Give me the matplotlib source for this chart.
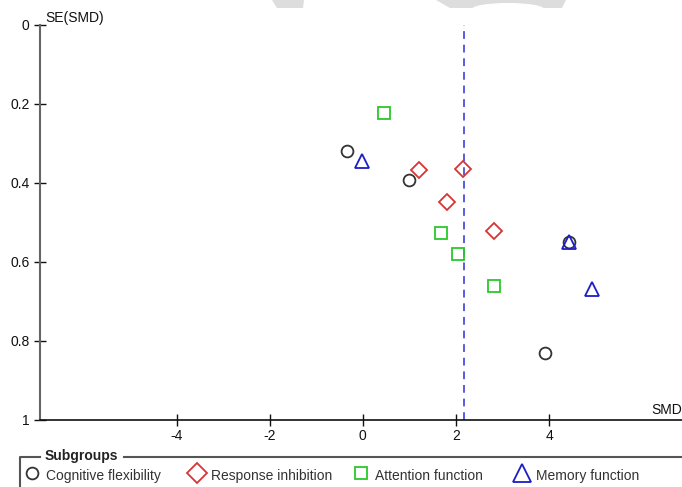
import numpy as np
from matplotlib import pyplot as plt
from matplotlib.lines import Line2D
from matplotlib.patches import Polygon, Ellipse

plt.rcParams["font.family"] = ["Liberation Sans", "DejaVu Sans"]

# SMD and SE(SMD) per study, grouped by subgroup
cog_smd = [-0.34, 1.00, 4.42, 3.90]
cog_se = [0.319, 0.393, 0.549, 0.831]
resp_smd = [1.20, 2.15, 1.80, 2.82]
resp_se = [0.368, 0.365, 0.448, 0.522]
attn_smd = [0.46, 1.67, 2.05, 2.82]
attn_se = [0.222, 0.528, 0.581, 0.661]
mem_smd = [-0.01, 4.42, 4.92]
mem_se = [0.344, 0.549, 0.670]
pooled_smd = 2.17

groups = ["Cognitive flexibility", "Response inhibition", "Attention function", "Memory function"]
xticks = [-4, -2, 0, 2, 4]
yticks = [0, 0.2, 0.4, 0.6, 0.8, 1]
ytick_labels = ["0", "0.2", "0.4", "0.6", "0.8", "1"]

W, H = 682, 487
fig = plt.figure(figsize=(W / 100, H / 100), dpi=100)


def fx(px):
    return px / W


def fy(py):
    return 1 - py / H


ax = fig.add_axes([fx(40), fy(419.5), fx(W) - fx(40), fy(25) - fy(419.5)])
ax.set_xlim(-6.93, 6.85)
ax.set_ylim(1, 0)

styles = [
    dict(marker="o", color="#333333", ms=8.5),
    dict(marker="D", color="#d83434", ms=8.5),
    dict(marker="s", color="#2ac82a", ms=8),
    dict(marker="^", color="#1c1cc8", ms=10.5),
]
data = [(cog_smd, cog_se), (resp_smd, resp_se), (attn_smd, attn_se), (mem_smd, mem_se)]

ax.axvline(pooled_smd, color="#5a5ae0", ls=(0, (4, 3)), lw=1.4, zorder=1)
for (xs, ys), st in zip(data, styles):
    ax.plot(xs, ys, ls="none", marker=st["marker"], ms=st["ms"], mfc="none",
            mec=st["color"], mew=1.3, zorder=3)

for side in ["top", "right"]:
    ax.spines[side].set_visible(False)
ax.spines["left"].set_color("#666666")
ax.spines["left"].set_linewidth(1.5)
ax.spines["bottom"].set_color("#111111")
ax.spines["bottom"].set_linewidth(1.2)

ax.set_xticks(xticks)
ax.set_xticklabels([str(t) for t in xticks])
ax.set_yticks(yticks)
ax.set_yticklabels(ytick_labels)
ax.tick_params(axis="both", direction="inout", length=9, width=1, colors="#111111",
               labelsize=10, pad=3)
ax.tick_params(axis="x", pad=2)

fig.text(fx(45), fy(18), "SE(SMD)", fontsize=10, va="center", ha="left", color="#111111")
fig.text(fx(682), fy(410), "SMD", fontsize=10, va="center", ha="right", color="#111111")

# subgroup key below the plot
fig.add_artist(Line2D([fx(20), fx(20), fx(40)], [fy(487), fy(457), fy(457)],
                      color="#555555", lw=1.5))
fig.add_artist(Line2D([fx(124), fx(682)], [fy(457), fy(457)], color="#555555", lw=1.5))
fig.text(fx(45), fy(456), "Subgroups", fontsize=10, fontweight="bold", va="center",
         ha="left", color="#222222")

key_x = [32, 197, 361, 522]
key_ms = [8.5, 10.5, 8, 13]
for kx, st, ms, name in zip(key_x, styles, key_ms, groups):
    fig.add_artist(Line2D([fx(kx)], [fy(473)], ls="none", marker=st["marker"], ms=ms,
                          mfc="none", mec=st["color"], mew=1.3))
    fig.text(fx(kx + 14), fy(476), name, fontsize=10, va="center", ha="left",
             color="#333333")

# faint grey shapes along the top edge
fig.add_artist(Polygon([(fx(272), fy(0)), (fx(304), fy(0)), (fx(303), fy(8)), (fx(277), fy(8))],
                       closed=True, color="#dddddd", lw=0))
fig.add_artist(Polygon([(fx(436), fy(0)), (fx(566), fy(0)), (fx(562), fy(8)), (fx(450), fy(8))],
                       closed=True, color="#dddddd", lw=0))
fig.add_artist(Ellipse((fx(508), fy(9)), fx(72), 12 / H, color="white", lw=0))

fig.savefig("out.png", dpi=100)
